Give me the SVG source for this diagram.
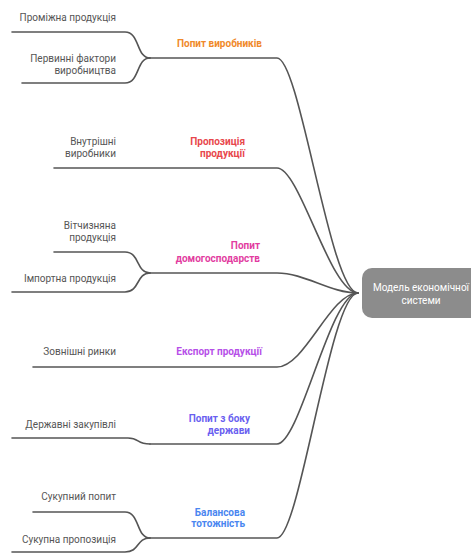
<svg xmlns="http://www.w3.org/2000/svg" width="471" height="554" viewBox="0 0 471 554">
<style>
.bg{fill:#ffffff}
.c{fill:none;stroke:#555555;stroke-width:1.6;stroke-linecap:round}
.t{font-family:Roboto,"Liberation Sans",sans-serif;font-size:10px;fill:#555555;text-anchor:end}
.l{font-family:Roboto,"Liberation Sans",sans-serif;font-size:10px;font-weight:bold;text-anchor:end}
.root{fill:#8c8c8c}
.rt{font-family:Roboto,"Liberation Sans",sans-serif;font-size:10px;fill:#ffffff;text-anchor:middle}
</style>
<rect class="bg" width="471" height="554"/>
<g id="connectors">
  <path class="c" d="M12 32 H125 C140 32 136 58 150 58"/>
  <path class="c" d="M22 83 H125 C140 83 136 58 150 58"/>
  <path class="c" d="M150 58 H277 C300 58 330 293 358 293"/>
  <path class="c" d="M54 168 H277 C300 168 330 293 358 293"/>
  <path class="c" d="M54 252 H125 C140 252 136 273 150 273"/>
  <path class="c" d="M12 292 H125 C140 292 136 273 150 273"/>
  <path class="c" d="M150 273 H277 C305 273 330 293 358 293"/>
  <path class="c" d="M33 367 H277 C305 367 330 293 358 293"/>
  <path class="c" d="M12 438 H128 C140 438 136 444 150 444"/>
  <path class="c" d="M150 444 H277 C300 444 330 293 358 293"/>
  <path class="c" d="M33 512 H125 C140 512 136 538 150 538"/>
  <path class="c" d="M12 552 H125 C140 552 136 538 150 538"/>
  <path class="c" d="M150 538 H277 C300 538 330 293 358 293"/>
</g>
<g id="root">
  <rect class="root" x="362" y="268" width="130" height="50" rx="10"/>
  <text class="rt" x="421" y="291">Модель економічної</text>
  <text class="rt" x="421" y="304">системи</text>
</g>
<g id="popyt-vyrobnykiv">
  <text class="l" x="262" y="47" fill="#f0892a">Попит виробників</text>
</g>
<g id="promizhna">
  <text class="t" x="116" y="21">Проміжна продукція</text>
</g>
<g id="pervynni">
  <text class="t" x="116" y="62">Первинні фактори</text>
  <text class="t" x="116" y="74">виробництва</text>
</g>
<g id="propozytsiia">
  <text class="l" x="245" y="145" fill="#e8474c">Пропозиція</text>
  <text class="l" x="245" y="157" fill="#e8474c">продукції</text>
</g>
<g id="vnutrishni">
  <text class="t" x="116" y="145">Внутрішні</text>
  <text class="t" x="116" y="157">виробники</text>
</g>
<g id="popyt-domohosp">
  <text class="l" x="260" y="249" fill="#e23d9f">Попит</text>
  <text class="l" x="260" y="262" fill="#e23d9f">домогосподарств</text>
</g>
<g id="vitchyzniana">
  <text class="t" x="116" y="229">Вітчизняна</text>
  <text class="t" x="116" y="241">продукція</text>
</g>
<g id="importna">
  <text class="t" x="116" y="282">Імпортна продукція</text>
</g>
<g id="eksport">
  <text class="l" x="262" y="355" fill="#b64fe8">Експорт продукції</text>
</g>
<g id="zovnishni">
  <text class="t" x="116" y="355">Зовнішні ринки</text>
</g>
<g id="popyt-derzhavy">
  <text class="l" x="250" y="422" fill="#6a5ff0">Попит з боку</text>
  <text class="l" x="250" y="434" fill="#6a5ff0">держави</text>
</g>
<g id="derzhavni">
  <text class="t" x="116" y="428">Державні закупівлі</text>
</g>
<g id="balansova">
  <text class="l" x="245" y="516" fill="#4a86f0">Балансова</text>
  <text class="l" x="245" y="527" fill="#4a86f0">тотожність</text>
</g>
<g id="sukupnyi-popyt">
  <text class="t" x="116" y="500">Сукупний попит</text>
</g>
<g id="sukupna-propozytsiia">
  <text class="t" x="116" y="543">Сукупна пропозиція</text>
</g>
</svg>
